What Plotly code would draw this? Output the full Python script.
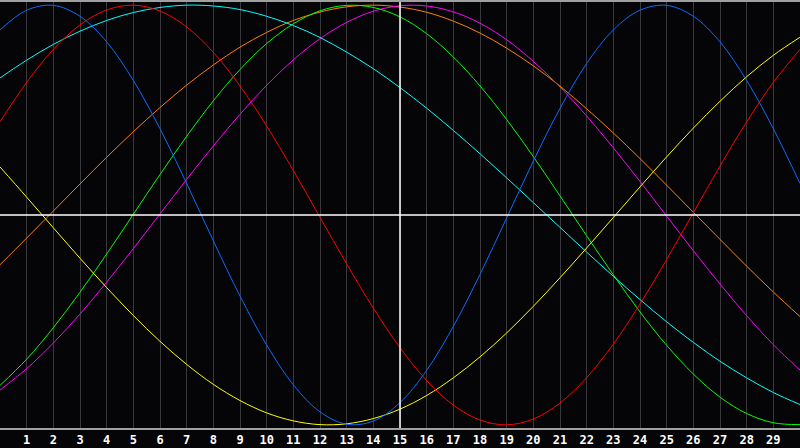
import plotly.graph_objects as go

# days shown on the chart (0..30) and tick labels 1..29
days = list(range(31))
tick_days = list(range(1, 30))
tick_labels = [str(d) for d in tick_days]

# cycle values, one per day
blue = [0.882, 0.976, 0.999, 0.947, 0.825, 0.641, 0.411, 0.150, -0.123, -0.386, -0.620,
        -0.809, -0.938, -0.997, -0.982, -0.894, -0.740, -0.531, -0.283, -0.014, 0.257,
        0.508, 0.722, 0.882, 0.976, 0.999, 0.947, 0.825, 0.641, 0.411, 0.150]
red = [0.444, 0.632, 0.789, 0.906, 0.977, 1.000, 0.972, 0.896, 0.775, 0.615, 0.424,
       0.212, -0.011, -0.233, -0.444, -0.632, -0.789, -0.906, -0.977, -1.000, -0.972,
       -0.896, -0.775, -0.615, -0.424, -0.212, 0.011, 0.233, 0.444, 0.632, 0.789]
cyan = [0.653, 0.738, 0.813, 0.876, 0.927, 0.965, 0.989, 1.000, 0.996, 0.979, 0.947,
        0.903, 0.846, 0.776, 0.697, 0.607, 0.509, 0.403, 0.292, 0.177, 0.059,
        -0.059, -0.177, -0.292, -0.403, -0.509, -0.607, -0.697, -0.776, -0.846, -0.903]
orange = [-0.237, -0.110, 0.019, 0.148, 0.275, 0.397, 0.512, 0.619, 0.715, 0.800, 0.870,
          0.927, 0.967, 0.992, 1.000, 0.991, 0.966, 0.924, 0.867, 0.795, 0.711,
          0.614, 0.506, 0.391, 0.269, 0.142, 0.013, -0.116, -0.244, -0.367, -0.484]
green = [-0.812, -0.687, -0.537, -0.368, -0.186, 0.004, 0.193, 0.375, 0.544, 0.693, 0.817,
         0.911, 0.973, 0.999, 0.989, 0.944, 0.864, 0.753, 0.615, 0.455, 0.278,
         0.091, -0.099, -0.285, -0.462, -0.621, -0.758, -0.868, -0.946, -0.990, -0.999]
magenta = [-0.834, -0.732, -0.610, -0.472, -0.320, -0.160, 0.005, 0.170, 0.329, 0.480, 0.618,
           0.739, 0.840, 0.918, 0.971, 0.997, 0.996, 0.968, 0.914, 0.835, 0.732,
           0.610, 0.472, 0.320, 0.160, -0.005, -0.170, -0.329, -0.480, -0.618, -0.739]
yellow = [0.229, 0.085, -0.061, -0.206, -0.346, -0.479, -0.602, -0.712, -0.807, -0.884, -0.943,
          -0.981, -0.999, -0.995, -0.970, -0.925, -0.860, -0.776, -0.676, -0.562, -0.435,
          -0.299, -0.157, -0.012, 0.134, 0.277, 0.414, 0.542, 0.659, 0.761, 0.847]

series = [
    (orange, "#ff8000"),
    (magenta, "#ff00ff"),
    (green, "#00ff00"),
    (cyan, "#00ffff"),
    (yellow, "#ffff00"),
    (red, "#ff0000"),
    (blue, "#0a6cff"),
]

fig = go.Figure()
for vals, color in series:
    fig.add_trace(go.Scatter(
        x=days, y=vals, mode="lines",
        line=dict(color=color, width=1, shape="spline", smoothing=1.0),
        hoverinfo="skip",
    ))

# center cross
fig.add_shape(type="line", xref="paper", yref="y", x0=0, x1=1, y0=0, y1=0,
              line=dict(color="white", width=1.5))
fig.add_shape(type="line", xref="x", yref="paper", x0=15, x1=15, y0=0, y1=1,
              line=dict(color="white", width=1.5))

fig.update_layout(
    width=800, height=448,
    margin=dict(l=0, r=0, t=0, b=20),
    paper_bgcolor="#050508",
    plot_bgcolor="#050508",
    showlegend=False,
    xaxis=dict(
        range=[0, 30], tickvals=tick_days, ticktext=tick_labels,
        showgrid=True, gridcolor="#3a3a3e", gridwidth=1,
        zeroline=False, showline=True, linecolor="#a0a0a0", linewidth=2,
        mirror=True, ticks="",
        tickfont=dict(family="DejaVu Sans Mono", size=12, color="white", weight="bold"),
    ),
    yaxis=dict(
        range=[-1.015, 1.015], showgrid=False, zeroline=False,
        showticklabels=False, showline=True, linecolor="#a0a0a0", linewidth=2,
        ticks="",
    ),
)

fig.write_html("out.html", config={"displayModeBar": False},
               post_script="document.body.style.margin='0';")
